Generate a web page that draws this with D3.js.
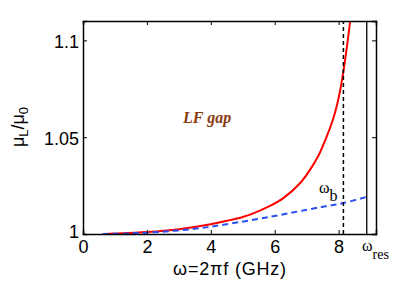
<!DOCTYPE html>
<html>
<head>
<meta charset="utf-8">
<script src="https://cdn.jsdelivr.net/npm/d3@7"></script>
<style>
  body { margin: 0; background: #fff; }
  svg { display: block; }
</style>
</head>
<body>
<div id="chart"></div>
<script>
// mu_L / mu_0 vs omega

const xTicks = [0, 2, 4, 6, 8];
const yTicks = [1, 1.05, 1.1];
const yTickLabels = ["1", "1.05", "1.1"];

// red curve (mu_L / mu_0)
const redOmega = [0.62, 1, 2, 3, 4, 4.5, 5, 5.23, 5.85, 6.27, 6.79, 7.1, 7.37, 7.62, 7.81, 7.94, 8.04, 8.15, 8.25, 8.36, 8.42];
const redMu = [1.0, 1.0002, 1.001, 1.0025, 1.005, 1.0068, 1.0088, 1.0100, 1.0145, 1.0185, 1.0262, 1.0330, 1.0405, 1.0500, 1.0585, 1.0660, 1.0735, 1.0840, 1.0955, 1.110, 1.120];

// blue dashed curve
const blueOmega = [0.62, 1.5, 2.5, 3.5, 4.4, 5.85, 7.42, 8.15, 8.88];
const blueMu = [1.0, 1.0003, 1.0012, 1.0027, 1.0048, 1.0089, 1.0138, 1.016, 1.0192];

const omegaB = 8.15;
const omegaRes = 8.88;

const width = 415, height = 282;
const margin = { top: 21, right: 39, bottom: 48, left: 83 };

const svg = d3.select("#chart")
    .append("svg")
    .attr("width", width)
    .attr("height", height);

const x = d3.scaleLinear().domain([0, 9.17]).range([margin.left, width - margin.right]);
const y = d3.scaleLinear().domain([1, 1.11]).range([height - margin.bottom, margin.top]);

svg.append("clipPath").attr("id", "clip")
    .append("rect")
    .attr("x", margin.left).attr("y", margin.top)
    .attr("width", x.range()[1] - margin.left)
    .attr("height", y.range()[0] - margin.top);

const plot = svg.append("g").attr("clip-path", "url(#clip)");

const line = d3.line()
    .x(d => x(d[0]))
    .y(d => y(d[1]))
    .curve(d3.curveCatmullRom.alpha(0.5));

plot.append("path")
    .datum(redOmega.map((w, i) => [w, redMu[i]]))
    .attr("d", line)
    .attr("fill", "none")
    .attr("stroke", "#ff0000")
    .attr("stroke-width", 2);

plot.append("path")
    .datum(blueOmega.map((w, i) => [w, blueMu[i]]))
    .attr("d", line)
    .attr("fill", "none")
    .attr("stroke", "#2a4ef0")
    .attr("stroke-width", 2)
    .attr("stroke-dasharray", "6,4");

// omega_b dashed marker
plot.append("line")
    .attr("x1", x(omegaB)).attr("x2", x(omegaB))
    .attr("y1", y.range()[0]).attr("y2", y.range()[1])
    .attr("stroke", "#000")
    .attr("stroke-width", 1.5)
    .attr("stroke-dasharray", "4,3");

// omega_res solid marker
plot.append("line")
    .attr("x1", x(omegaRes)).attr("x2", x(omegaRes))
    .attr("y1", y.range()[0]).attr("y2", y.range()[1])
    .attr("stroke", "#000")
    .attr("stroke-width", 1.3);

// axes, matlab style box with inward ticks
const tickFont = "'Liberation Sans', Arial, sans-serif";
const serifFont = "'Liberation Serif', 'Times New Roman', Times, 'DejaVu Serif', serif";

const xAxis = svg.append("g")
    .attr("transform", `translate(0,${y.range()[0]})`)
    .call(d3.axisBottom(x).tickValues(xTicks).tickSize(-4).tickPadding(3).tickFormat(d3.format("d")));
const xAxisTop = svg.append("g")
    .attr("transform", `translate(0,${margin.top})`)
    .call(d3.axisTop(x).tickValues(xTicks).tickSize(-4).tickFormat(""));
const yAxis = svg.append("g")
    .attr("transform", `translate(${margin.left},0)`)
    .call(d3.axisLeft(y).tickValues(yTicks).tickSize(-4).tickPadding(4).tickFormat((d, i) => yTickLabels[i]));
const yAxisRight = svg.append("g")
    .attr("transform", `translate(${x.range()[1]},0)`)
    .call(d3.axisRight(y).tickValues(yTicks).tickSize(-4).tickFormat(""));

[xAxis, xAxisTop, yAxis, yAxisRight].forEach(g => {
    g.attr("font-family", null);
    g.select(".domain").attr("stroke", "#000").attr("stroke-width", 1.5);
    g.selectAll(".tick line").attr("stroke", "#000").attr("stroke-width", 1);
    g.selectAll("text")
        .attr("fill", "#000")
        .style("font-family", tickFont)
        .style("font-size", "18px");
});
xAxis.selectAll(".tick text").attr("dy", "0.9em");
yAxis.selectAll(".tick text").attr("dy", "0.38em");
// matlab lifts the bottom "1" so it sits above the "0"
yAxis.selectAll(".tick text").filter(d => d === 1).attr("dy", "0.2em");

// axis titles
svg.append("text")
    .attr("x", 230)
    .attr("y", 275)
    .attr("text-anchor", "middle")
    .style("font-family", tickFont)
    .style("font-size", "18px")
    .style("letter-spacing", "0.8px")
    .text("ω=2πf (GHz)");

const yLab = svg.append("text")
    .attr("transform", "translate(24,127) rotate(-90)")
    .attr("text-anchor", "middle")
    .style("font-family", tickFont)
    .style("font-size", "18px");
yLab.append("tspan").text("μ");
yLab.append("tspan").attr("dy", 4).style("font-size", "13px").text("L");
yLab.append("tspan").attr("dy", -4).text("/μ");
yLab.append("tspan").attr("dy", 4).style("font-size", "13px").text("0");

// annotations
svg.append("text")
    .attr("x", 183)
    .attr("y", 123)
    .style("font-family", serifFont)
    .style("font-style", "italic")
    .style("font-weight", "bold")
    .style("font-size", "16px")
    .attr("fill", "#8a3a10")
    .text("LF gap");

const wb = svg.append("text")
    .attr("x", 319)
    .attr("y", 193)
    .style("font-family", serifFont)
    .style("font-size", "16px")
    .attr("fill", "#000");
wb.append("tspan").text("ω");
wb.append("tspan").attr("dy", 8).text("b");

const wr = svg.append("text")
    .attr("x", 362)
    .attr("y", 251)
    .style("font-family", serifFont)
    .style("font-size", "16px")
    .attr("fill", "#000");
wr.append("tspan").text("ω");
wr.append("tspan").attr("dy", 8).style("font-size", "14px").text("res");
</script>
</body>
</html>
